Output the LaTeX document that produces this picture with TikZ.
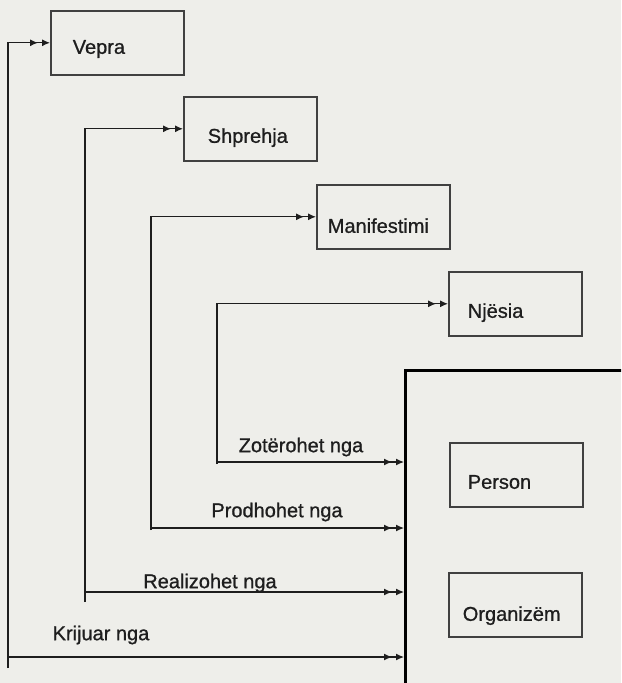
\documentclass[tikz,border=0pt]{standalone}
\usepackage{fontspec}
\setmainfont{Liberation Sans}
\newfontfamily\scanfont{Liberation Sans}[FakeBold=0.9]
\usetikzlibrary{arrows.meta,calc}
\definecolor{paper}{RGB}{238,238,234}
\definecolor{ink}{RGB}{30,30,30}
\tikzset{%
entity/.style={draw=ink!85, line width=0.8pt, anchor=north west, align=left,
               minimum height=32pt, inner xsep=#1, text width={66.5pt-2*#1},
               text height=14pt, text depth=0pt},
entity/.default=9pt,
actor/.style={draw=black, line width=1.4pt, anchor=north west,
              minimum width=130pt, minimum height=180pt},
relation/.style={draw=ink, line width=0.6pt,
                 -{Latex[length=4pt,width=3.5pt,sep=2pt]Latex[length=4pt,width=3.5pt]}},
rolename/.style={text=ink, inner sep=0pt}
}

\begin{document}
\begin{tikzpicture}[x=0.5pt,y=-0.5pt,every node/.style={font=\scanfont\fontsize{10}{12}\selectfont, text=ink}]
\fill[paper] (0,0) rectangle (621,683);
\useasboundingbox (0,0) rectangle (621,683);

\begin{scope}
\clip (0,0) rectangle (621,683);
\node[actor]      (actor)       at (404,369) {};
\end{scope}

\node[entity=11pt,text height=11pt] (vepra) at (50,10) {Vepra};
\node[entity=12pt]  (shprehja)    at (183,96)  {Shprehja};
\node[entity=5.5pt,text height=16pt] (manifestimi) at (316,184) {Manifestimi};
\node[entity=9.5pt] (njesia)      at (448,271) {Njësia};
\node[entity=9pt]   (person)      at (449,442) {Person};
\node[entity=7pt,text height=16pt] (organizem) at (448,572) {Organizëm};

\foreach \e/\x/\y/\f in {vepra/8/657/668,
                         shprehja/85/592/602,
                         manifestimi/151/528/530,
                         njesia/217/462/464}
{
  \coordinate (\e foot) at (\x,\f);
  \coordinate (\e rel)  at (\x,\y);
  \draw[relation] (\e foot) |- (\e.west);
  \draw[relation] (\e rel) -- (\e rel -| actor.west);
}

\node[rolename] (owned)    at (301,447) {Zotërohet nga};
\node[rolename] (produced) at (277,512) {Prodhohet nga};
\node[rolename] (realized) at (210,583) {Realizohet nga};
\node[rolename] (created)  at (101,635) {Krijuar nga};
\end{tikzpicture}
\end{document}
